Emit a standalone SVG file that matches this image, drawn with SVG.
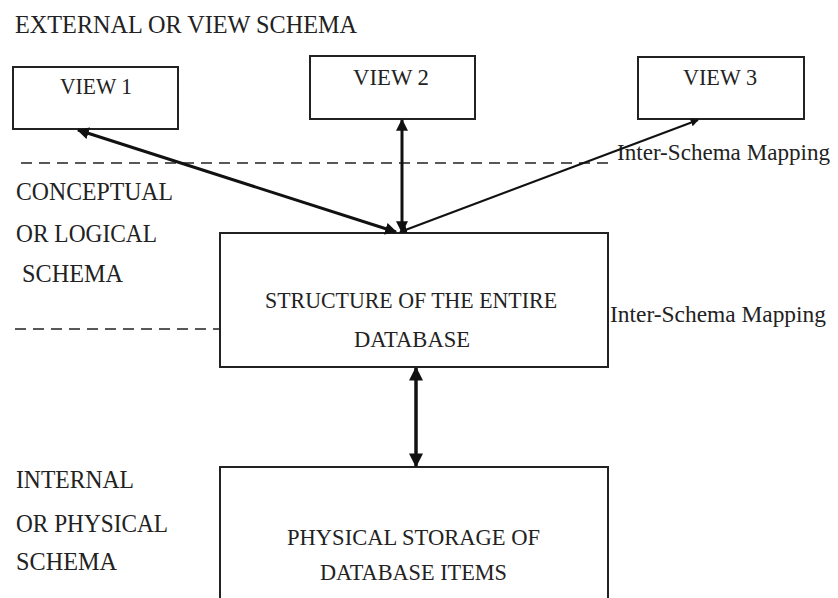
<svg xmlns="http://www.w3.org/2000/svg" width="838" height="598" viewBox="0 0 838 598">
<style>
text{font-family:"Liberation Serif","Times New Roman",serif;fill:#222}
.lbl{font-size:26px}
.map{font-size:23px}
.box{fill:#fff;stroke:#222;stroke-width:2}
.vt{font-size:23px}
.dash{stroke:#222;stroke-width:1.5;stroke-dasharray:11,7;fill:none}
.arr{stroke:#111;fill:none;marker-start:url(#ah);marker-end:url(#ah)}
</style>
<defs>
<marker id="ah" viewBox="0 0 10 10" refX="9" refY="5" markerWidth="4" markerHeight="4" orient="auto-start-reverse" markerUnits="strokeWidth">
<path d="M0,0 L10,5 L0,10 z" fill="#111"/>
</marker>
</defs>
<rect width="838" height="598" fill="#fff"/>
<g id="labels">
<text class="lbl" x="15" y="33" textLength="342" lengthAdjust="spacingAndGlyphs">EXTERNAL OR VIEW SCHEMA</text>
<text class="lbl" x="16" y="200" textLength="157" lengthAdjust="spacingAndGlyphs">CONCEPTUAL</text>
<text class="lbl" x="16" y="242" textLength="141" lengthAdjust="spacingAndGlyphs">OR LOGICAL</text>
<text class="lbl" x="22" y="282" textLength="101" lengthAdjust="spacingAndGlyphs">SCHEMA</text>
<text class="lbl" x="16" y="488" textLength="118" lengthAdjust="spacingAndGlyphs">INTERNAL</text>
<text class="lbl" x="16" y="532" textLength="152" lengthAdjust="spacingAndGlyphs">OR PHYSICAL</text>
<text class="lbl" x="16" y="570" textLength="101" lengthAdjust="spacingAndGlyphs">SCHEMA</text>
<text class="map" x="617" y="160" textLength="213" lengthAdjust="spacingAndGlyphs">Inter-Schema Mapping</text>
<text class="map" x="610" y="322" textLength="216" lengthAdjust="spacingAndGlyphs">Inter-Schema Mapping</text>
</g>
<g id="dividers">
<line class="dash" x1="21" y1="163" x2="610" y2="163"/>
<line class="dash" x1="15" y1="329" x2="220" y2="329"/>
</g>
<g id="view1">
<rect class="box" x="13" y="67" width="165" height="62"/>
<text class="vt" x="60" y="94" textLength="72" lengthAdjust="spacingAndGlyphs">VIEW 1</text>
</g>
<g id="view2">
<rect class="box" x="310" y="56" width="165" height="63"/>
<text class="vt" x="353" y="85" textLength="76" lengthAdjust="spacingAndGlyphs">VIEW 2</text>
</g>
<g id="view3">
<rect class="box" x="638" y="57" width="166" height="62"/>
<text class="vt" x="683" y="85" textLength="74" lengthAdjust="spacingAndGlyphs">VIEW 3</text>
</g>
<g id="conceptual">
<rect class="box" x="220" y="233" width="388" height="134"/>
<text class="vt" x="265" y="308" textLength="292" lengthAdjust="spacingAndGlyphs">STRUCTURE OF THE ENTIRE</text>
<text class="vt" x="354" y="347" textLength="116" lengthAdjust="spacingAndGlyphs">DATABASE</text>
</g>
<g id="physical">
<rect class="box" x="220" y="467" width="388" height="140"/>
<text class="vt" x="287" y="545" textLength="253" lengthAdjust="spacingAndGlyphs">PHYSICAL STORAGE OF</text>
<text class="vt" x="320" y="580" textLength="187" lengthAdjust="spacingAndGlyphs">DATABASE ITEMS</text>
</g>
<g id="connectors">
<line class="arr" style="stroke-width:3" x1="78" y1="130" x2="396" y2="232"/>
<line class="arr" style="stroke-width:3" x1="402" y1="120" x2="402" y2="232"/>
<line class="arr" style="stroke-width:2" x1="698" y1="120" x2="400" y2="232"/>
<line class="arr" style="stroke-width:3.5" x1="416" y1="368" x2="416" y2="466"/>
</g>
</svg>
